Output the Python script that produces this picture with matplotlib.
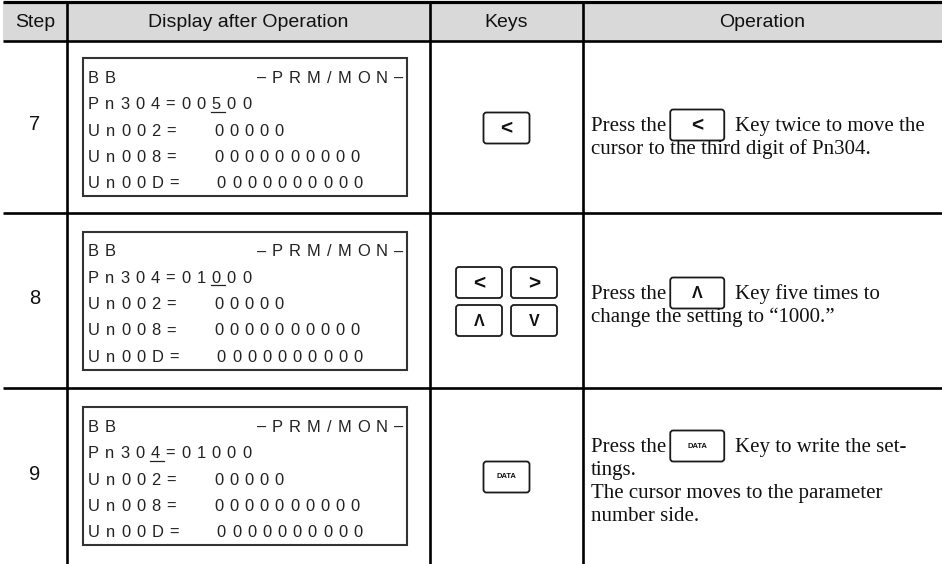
import matplotlib
matplotlib.use("Agg")
import matplotlib.pyplot as plt
from matplotlib.patches import Rectangle, FancyBboxPatch

# table content
headers = ["Step", "Display after Operation", "Keys", "Operation"]
steps = ["7", "8", "9"]

lcd_title = ["BB", "\u2013PRM/MON\u2013"]
lcd_rows = [
    ["Pn304=00500", "Un002=   00000", "Un008=   0000000000", "Un00D=   0000000000"],
    ["Pn304=01000", "Un002=   00000", "Un008=   0000000000", "Un00D=   0000000000"],
    ["Pn304=01000", "Un002=   00000", "Un008=   0000000000", "Un00D=   0000000000"],
]
# (line index, char index) of the blinking cursor in each display
cursor = [(1, 8), (1, 8), (1, 4)]

keys = [["<"], ["<", ">", "\u039b", "V"], ["DATA"]]

op_lead = ["Press the", "Press the", "Press the"]
op_key = ["<", "\u039b", "DATA"]
op_after = ["Key twice to move the", "Key five times to", "Key to write the set-"]
op_more = [
    ["cursor to the third digit of Pn304."],
    ["change the setting to \u201c1000.\u201d"],
    ["tings.", "The cursor moves to the parameter", "number side."],
]

# layout (pixels)
W, H = 942, 564
col_x = [3, 67, 430, 583, W]
row_y = [2, 41, 213, 388, H]
SANS = ["Liberation Sans", "DejaVu Sans"]
SERIF = ["Liberation Serif", "DejaVu Serif"]
HEAD_BG = "#d9d9d9"
INK = "#111111"
LCD_COL = "#222222"

# Arial / Liberation Sans advance widths (em)
ADV = {" ": .278, "=": .584, "P": .667, "n": .556, "U": .722, "D": .722,
       "B": .667, "R": .722, "M": .833, "O": .778, "N": .722, "/": .278,
       "\u2013": .556}
for d in "0123456789":
    ADV[d] = .556
LCD_EM = 16.5
LCD_TRACK = 6.0
LCD_FS = LCD_EM * 0.72

fig = plt.figure(figsize=(W / 100, H / 100), dpi=100)
ax = fig.add_axes([0, 0, 1, 1])
ax.set_xlim(0, W)
ax.set_ylim(H, 0)
ax.axis("off")
renderer = fig.canvas.get_renderer()

# header band
ax.add_patch(Rectangle((col_x[0], row_y[0]), W - col_x[0], row_y[1] - row_y[0],
                       fc=HEAD_BG, ec="none", zorder=0))
for i, h in enumerate(headers):
    ax.text((col_x[i] + col_x[i + 1]) / 2, (row_y[0] + row_y[1]) / 2 + 1, h,
            family=SANS, fontsize=14, ha="center", va="center", color=INK)

# grid lines
ax.plot([col_x[0], W], [row_y[0], row_y[0]], color="black", lw=2.3, solid_capstyle="butt")
for y in row_y[1:-1]:
    ax.plot([col_x[0], W], [y, y], color="black", lw=1.9, solid_capstyle="butt")
for x in col_x[1:-1]:
    ax.plot([x, x], [row_y[0], H], color="black", lw=1.9, solid_capstyle="butt")


def lcd_text(x, yb, s, cur=None):
    for i, ch in enumerate(s):
        w = ADV[ch] * LCD_EM
        if ch != " ":
            ax.text(x, yb, ch, family=SANS, fontsize=LCD_FS, color=LCD_COL,
                    ha="left", va="baseline")
        if i == cur:
            ax.plot([x - 1, x + w + LCD_TRACK * 0.7], [yb + 2.5, yb + 2.5],
                    color=LCD_COL, lw=0.9)
        x += w + LCD_TRACK


def text_width(s):
    return sum(ADV[c] * LCD_EM for c in s) + LCD_TRACK * (len(s) - 1)


def draw_key(cx, cy, label, w=46, h=31):
    ax.add_patch(FancyBboxPatch((cx - w / 2, cy - h / 2), w, h,
                                boxstyle="round,pad=0,rounding_size=3",
                                fc="white", ec="#1a1a1a", lw=1.3, zorder=3))
    if label == "DATA":
        fs, dy = 5.5, 0
    elif label in "<>":
        fs, dy = 15, 1
    else:
        fs, dy = 11.5, 1
    ax.text(cx, cy + dy, label, family=SANS, fontsize=fs, fontweight="bold",
            ha="center", va="center", color="#111111", zorder=4)


BOX_L, BOX_R, BOX_H = 83, 407, 138
LINE_GAP = 26.3

for r in range(3):
    top, bot = row_y[r + 1], row_y[r + 2]
    cy = (top + bot) / 2

    # step number
    ax.text((col_x[0] + col_x[1]) / 2, cy - 2, steps[r], family=SANS,
            fontsize=14.5, ha="center", va="center", color=INK)

    # LCD display
    bt = cy - BOX_H / 2
    ax.add_patch(Rectangle((BOX_L, bt), BOX_R - BOX_L, BOX_H, fc="white",
                           ec="#333333", lw=1.5, zorder=1))
    base0 = bt + 19 + 6
    lcd_text(BOX_L + 5, base0, lcd_title[0])
    lcd_text(BOX_R - 4 - text_width(lcd_title[1]), base0, lcd_title[1])
    for j, line in enumerate(lcd_rows[r]):
        cur = cursor[r][1] if cursor[r][0] == j + 1 else None
        lcd_text(BOX_L + 5, base0 + (j + 1) * LINE_GAP, line, cur)

    # keys column
    ks = keys[r]
    kx = (col_x[2] + col_x[3]) / 2
    if len(ks) == 1:
        draw_key(kx, cy + 1, ks[0])
    else:
        for k, lab in enumerate(ks):
            gx = kx + (k % 2 - 0.5) * 55
            gy = cy + 1 + (k // 2 - 0.5) * 38
            draw_key(gx, gy, lab)

    # operation text
    gap = 23
    first_base = [131, 299, 452][r]
    x0 = 591
    t = ax.text(x0, first_base, op_lead[r], family=SERIF, fontsize=15,
                ha="left", va="baseline", color=INK)
    bb = t.get_window_extent(renderer)
    kx0 = x0 + bb.width + 4
    draw_key(kx0 + 27, first_base - 6, op_key[r], w=54, h=31)
    ax.text(kx0 + 54 + 11, first_base, op_after[r], family=SERIF, fontsize=15,
            ha="left", va="baseline", color=INK)
    for j, line in enumerate(op_more[r]):
        ax.text(x0, first_base + (j + 1) * gap, line, family=SERIF, fontsize=15,
                ha="left", va="baseline", color=INK)

ax.set_xlim(0, W)
ax.set_ylim(H, 0)
fig.savefig("out.png", dpi=100)
